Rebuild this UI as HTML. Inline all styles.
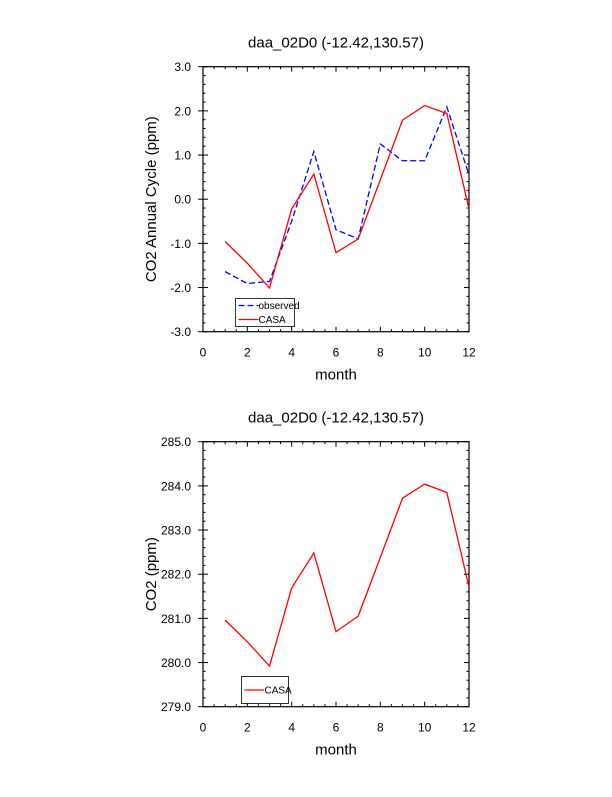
<!DOCTYPE html>
<html><head><meta charset="utf-8"><style>
body{margin:0;background:#fff;}
svg text{font-family:"Liberation Sans",Arial,sans-serif;}
</style></head><body>
<svg id="c" width="612" height="792" viewBox="0 0 612 792" xmlns="http://www.w3.org/2000/svg"></svg>
<script>
const months=[1,2,3,4,5,6,7,8,9,10,11,12];
const casaTop=[-0.96,-1.45,-2.01,-0.22,0.57,-1.21,-0.90,0.44,1.79,2.12,1.94,-0.22];
const obsTop=[-1.64,-1.91,-1.86,-0.5,1.08,-0.69,-0.90,1.25,0.87,0.87,2.09,0.55];
const casaBot=[280.96,280.47,279.92,281.69,282.48,280.70,281.05,282.38,283.72,284.04,283.85,281.71];
const xTicks=[0,2,4,6,8,10,12];
const yTicksTop=[-3,-2,-1,0,1,2,3];
const yTicksBot=[279,280,281,282,283,284,285];
const NS="http://www.w3.org/2000/svg";
const svg=document.getElementById('c');
function mk(tag,attrs,parent){const e=document.createElementNS(NS,tag);for(const k in attrs)e.setAttribute(k,attrs[k]);(parent||svg).appendChild(e);return e;}
function panel(name,top,bottom,ymin,ymax,yLabel,series,legend,leg){
  const L=203,R=469;
  const g=mk('g',{});
  
  
  const xs=v=>L+(v-0)/12*(R-L);
  const ys=v=>bottom-(v-ymin)/(ymax-ymin)*(bottom-top);
  for(let v=0;v<=12.001;v+=0.5){const x=xs(v);const maj=Math.abs(v/2-Math.round(v/2))<1e-6;const l=maj?5:2.5;
    mk('line',{x1:x,y1:bottom,x2:x,y2:bottom-l,stroke:'#000','stroke-width':1},g);
    mk('line',{x1:x,y1:top,x2:x,y2:top+l,stroke:'#000','stroke-width':1},g);}
  const step=(ymax-ymin)/30;
  for(let i=0;i<=30;i++){const v=ymin+i*step;const y=ys(v);const maj=i%5==0;const l=maj?5:2.5;
    mk('line',{x1:L,y1:y,x2:L+l,y2:y,stroke:'#000','stroke-width':1},g);
    mk('line',{x1:R,y1:y,x2:R-l,y2:y,stroke:'#000','stroke-width':1},g);
    if(maj){mk('line',{x1:L-5,y1:y,x2:L,y2:y,stroke:'#000','stroke-width':1},g);}}
  const ticks=ymin<100?yTicksTop:yTicksBot;
  ticks.forEach(v=>{const t=mk('text',{x:L-12,y:ys(v)+4.5,'font-size':12,'text-anchor':'end'},g);t.textContent=v.toFixed(1);
    
    });
  xTicks.forEach(v=>{const t=mk('text',{x:xs(v),y:bottom+25,'font-size':12,'text-anchor':'middle'},g);t.textContent=v;
    
    });
  const f=mk('rect',{x:L,y:top,width:R-L,height:bottom-top,fill:'none',stroke:'#000','stroke-width':1.2},g);
  
  
  const ti=mk('text',{x:336,y:top-19,'font-size':15,'text-anchor':'middle'},g);ti.textContent='daa_02D0 (-12.42,130.57)';
  
  
  const xl=mk('text',{x:336,y:bottom+48,'font-size':15,'text-anchor':'middle'},g);xl.textContent='month';
  
  
  const yc=(top+bottom)/2;
  const yl=mk('text',{x:156,y:yc,'font-size':15,'text-anchor':'middle',transform:`rotate(-90 156 ${yc})`},g);yl.textContent=yLabel;
  
  
  series.forEach(s=>{const p=mk('polyline',{points:months.map((m,i)=>xs(m)+','+ys(s.d[i])).join(' '),fill:'none',stroke:s.c,'stroke-width':1.3,'stroke-dasharray':s.dash||'none'},g);
    
    });
  const lb=mk('rect',{x:leg.x,y:leg.y,width:leg.w,height:leg.h,fill:'#fff',stroke:'#000','stroke-width':0.8},g);
  
  
  legend.forEach((s,i)=>{const yy=leg.y+leg.h/(legend.length)*(i+0.5);
    mk('line',{x1:leg.x+3,y1:yy,x2:leg.x+3+leg.lw,y2:yy,stroke:s.c,'stroke-width':1.3,'stroke-dasharray':s.dash||'none'},g);
    const t=mk('text',{x:leg.x+3+leg.lw,y:yy+3.5,'font-size':10},g);t.textContent=s.label;
    
    });
}
const obsS={n:'observed-line',d:obsTop,c:'#0000ff',dash:'6,3',label:'observed'};
const casaS={n:'casa-line',d:casaTop,c:'#ff0000',label:'CASA'};
panel('annual-cycle-panel',66.7,331.7,-3,3,'CO2 Annual Cycle (ppm)',[obsS,casaS],[obsS,casaS],{x:235.5,y:298.5,w:59,h:28,lw:20});
const casaB={n:'casa-co2-line',d:casaBot,c:'#ff0000',label:'CASA'};
panel('co2-panel',441.7,706.7,279,285,'CO2 (ppm)',[casaB],[casaB],{x:241.5,y:676.5,w:47,h:27,lw:20});
</script>
</body></html>
